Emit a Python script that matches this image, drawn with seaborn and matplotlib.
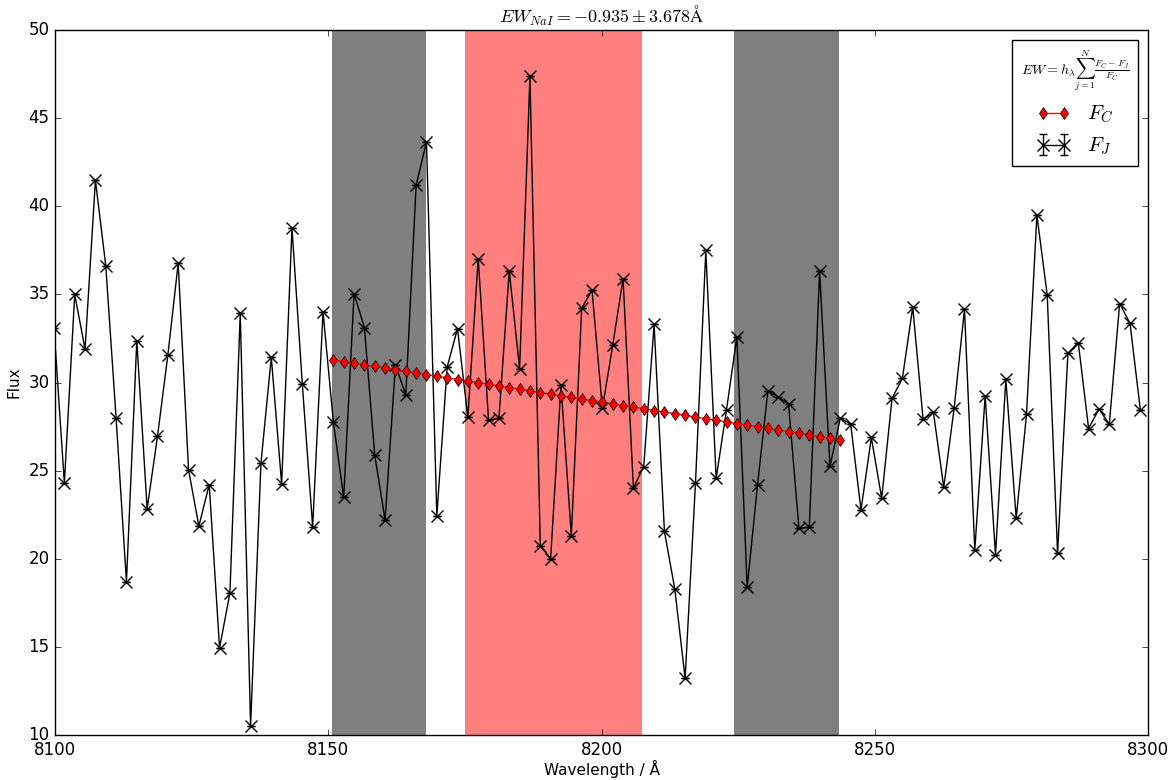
import numpy as np
import matplotlib
matplotlib.use("Agg")
import matplotlib.pyplot as plt
import seaborn as sns

flux_j = [33.08, 24.29, 35.00, 31.89, 41.48, 36.63, 27.99, 18.68, 32.38, 22.83,
          26.94, 31.55, 36.76, 25.06, 21.85, 24.21, 14.94, 18.05, 33.93, 10.52,
          25.42, 31.43, 24.25, 38.78, 29.90, 21.81, 34.02, 27.75, 23.48, 35.04,
          33.12, 25.88, 22.20, 31.00, 29.30, 41.20, 43.65, 22.44, 30.88, 33.06,
          28.02, 37.03, 27.88, 27.96, 36.32, 30.79, 47.37, 20.74, 20.00, 29.85,
          21.31, 34.21, 35.25, 28.53, 32.11, 35.89, 24.02, 25.23, 33.30, 21.55,
          18.29, 13.21, 24.28, 37.50, 24.56, 28.45, 32.58, 18.39, 24.20, 29.53,
          29.19, 28.77, 21.73, 21.78, 36.32, 25.24, 27.98, 27.64, 22.77, 26.88,
          23.43, 29.11, 30.23, 34.28, 27.92, 28.30, 24.05, 28.53, 34.15, 20.50,
          29.24, 20.23, 30.19, 22.29, 28.20, 39.50, 34.96, 20.33, 31.66, 32.27,
          27.39, 28.49, 27.64, 34.48, 33.36, 28.45]
flux_err = [0.0] * len(flux_j)

# Rejilla de longitud de onda del espectro (inicio y paso en Angstrom)
wave_start = 8099.82
wave_step = 1.8931
wavelength = wave_start + wave_step * np.arange(len(flux_j))

# Continuo F_C (pixeles 27 a 76)
cont_first, cont_last = 27, 77
flux_c = [31.28, 31.19, 31.10, 31.00, 30.91, 30.82, 30.73, 30.63, 30.54, 30.45,
          30.36, 30.26, 30.17, 30.08, 29.99, 29.89, 29.80, 29.71, 29.62, 29.52,
          29.43, 29.34, 29.25, 29.15, 29.06, 28.97, 28.88, 28.78, 28.69, 28.60,
          28.51, 28.41, 28.32, 28.23, 28.14, 28.04, 27.95, 27.86, 27.77, 27.67,
          27.58, 27.49, 27.40, 27.30, 27.21, 27.12, 27.03, 26.93, 26.84, 26.75]

# Ventanas de continuo (gris) y de la linea NaI (rojo)
cont_windows = [(8150.6, 8167.8), (8224.2, 8243.4)]
line_window = (8175.05, 8207.4)

title = r'$EW_{NaI}=-0.935\pm3.678\mathrm{Å}$'
ew_formula = r'$EW=h_\lambda\sum_{j=1}^{N}\frac{F_C-F_J}{F_C}$'

plt.style.use('classic')
fig, ax = plt.subplots(figsize=(11.73, 7.80), dpi=100)
fig.patch.set_facecolor('white')
fig.subplots_adjust(left=0.0469, right=0.9787, top=0.9615, bottom=0.0577)

for lo, hi in cont_windows:
    ax.axvspan(lo, hi, color='black', alpha=0.5, lw=0, zorder=0)
ax.axvspan(line_window[0], line_window[1], color='red', alpha=0.5, lw=0, zorder=0)

# Espectro con barras de error
ej = ax.errorbar(wavelength, flux_j, yerr=flux_err, fmt='-x', color='black',
                 ms=9, mew=1, lw=1, capsize=3, label=r'$F_J$', zorder=2)

# Continuo con seaborn
sns.lineplot(x=wavelength[cont_first:cont_last], y=flux_c, ax=ax, color='red',
             marker='d', markersize=6, markeredgecolor='black',
             markeredgewidth=0.5, linewidth=1, label=r'$F_C$', zorder=3)

ax.set_xlim(8100, 8300)
ax.set_ylim(10, 50)
ax.set_xticks(range(8100, 8301, 50))
ax.set_yticks(range(10, 51, 5))
ax.set_xlabel(u'Wavelength / Å', fontsize=11, labelpad=1)
ax.set_ylabel('Flux', fontsize=11)
ax.set_title(title, fontsize=13)

handles, labels = ax.get_legend_handles_labels()
order = [labels.index(r'$F_C$'), labels.index(r'$F_J$')]
leg = ax.legend([handles[i] for i in order], [labels[i] for i in order],
                loc='upper right', title=ew_formula, fontsize=15,
                title_fontsize=10, numpoints=2, handlelength=1.6,
                fancybox=False)

plt.savefig('out.png', dpi=100, facecolor='white')
